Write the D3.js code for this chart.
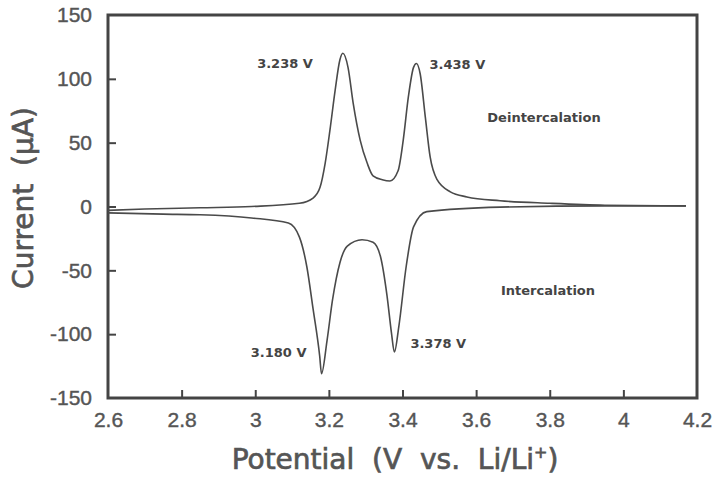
<!DOCTYPE html>
<html>
<head>
<meta charset="utf-8">
<script src="https://cdn.jsdelivr.net/npm/d3@7"></script>
<style>
  body { margin: 0; background: #fff; }
  svg { display: block; font-family: 'DejaVu Sans', Verdana, sans-serif; }
  .tick text { fill: #555; font-size: 21px; stroke: #555; stroke-width: 0.4px; }
  .tick line { stroke: #444; stroke-width: 2; }
  .title { fill: #555; font-size: 28px; stroke: #555; stroke-width: 0.7px; }
  .note { fill: #444; font-size: 13px; font-weight: bold; }
</style>
</head>
<body>
<svg width="715" height="478"></svg>
<script>
// cyclic voltammogram, values
// upper branch = deintercalation (anodic), lower branch = intercalation (cathodic)
const upperV = [2.6, 2.7, 2.85, 2.99, 3.12, 3.157, 3.176, 3.19, 3.203, 3.217, 3.23, 3.238, 3.252, 3.266, 3.285, 3.304, 3.32, 3.345, 3.366, 3.388, 3.402, 3.416, 3.43, 3.438, 3.448, 3.462, 3.475, 3.494, 3.53, 3.575, 3.665, 3.8, 3.95, 4.17]
const upperI = [-3, -2, -1, 0, 2.5, 6.6, 15, 34, 60, 91, 115, 120, 109, 81, 52, 34, 24, 21, 20, 28, 52, 86, 109, 112, 104, 70, 39, 21, 11.5, 7.5, 4.5, 2.5, 1, 0.5]

const lowerV = [2.6, 2.75, 2.85, 2.99, 3.09, 3.12, 3.14, 3.157, 3.175, 3.18, 3.195, 3.21, 3.23, 3.25, 3.29, 3.32, 3.34, 3.358, 3.37, 3.378, 3.39, 3.41, 3.43, 3.466, 3.665, 3.95, 4.17]
const lowerI = [-5, -6, -6.5, -9, -13, -24, -47, -80, -117, -131, -105, -73, -44, -31, -26, -28, -39, -70, -99, -114, -94, -47, -16, -4, -0.5, 0.5, 0.5]

const xTicks = [2.6, 2.8, 3, 3.2, 3.4, 3.6, 3.8, 4, 4.2]
const yTicks = [-150, -100, -50, 0, 50, 100, 150]

// peak labels: text, potential and current where the label sits
const peakText = ['3.238 V', '3.438 V', '3.180 V', '3.378 V']
const peakV = [3.238, 3.438, 3.180, 3.378]
const peakI = [108.5, 108, -118, -111]

const svg = d3.select('svg')

const x = d3.scaleLinear().domain([2.6, 4.2]).range([108, 697])
const y = d3.scaleLinear().domain([-150, 150]).range([398, 15])

// axes with inward ticks, the frame is drawn separately
const xAxis = svg.append('g')
  .attr('transform', `translate(0, ${y(-150)})`)
  .call(d3.axisBottom(x).tickValues(xTicks).tickSize(-8).tickPadding(14)
    .tickFormat(d => String(+d.toFixed(1))))
xAxis.select('.domain').remove()
xAxis.selectAll('.tick line').filter(d => d === 2.6 || d === 4.2).remove()

// plain hyphen for negatives, like the original
const yAxis = svg.append('g')
  .attr('transform', `translate(${x(2.6)}, 0)`)
  .call(d3.axisLeft(y).tickValues(yTicks).tickSize(-8).tickPadding(16)
    .tickFormat(d => String(d)))
yAxis.select('.domain').remove()
yAxis.selectAll('.tick line').filter(d => d === 150 || d === -150).remove()

// frame
svg.append('rect')
  .attr('x', x(2.6))
  .attr('y', y(150))
  .attr('width', x(4.2) - x(2.6))
  .attr('height', y(-150) - y(150))
  .attr('fill', 'none')
  .attr('stroke', '#444')
  .attr('stroke-width', 3)

const line = d3.line()
  .x(d => x(d[0]))
  .y(d => y(d[1]))
  .curve(d3.curveMonotoneX)

const branches = [d3.zip(upperV, upperI), d3.zip(lowerV, lowerI)]

svg.selectAll('path.cv')
  .data(branches)
  .enter()
  .append('path')
  .attr('class', 'cv')
  .attr('d', line)
  .attr('fill', 'none')
  .attr('stroke', '#4a4a4a')
  .attr('stroke-width', 1.6)

// peak potentials: labels left of the 3.2 V peaks, right of the 3.4 V peaks
const dxPeak = [-30, 13, -15, 16]
svg.selectAll('text.peak')
  .data(peakText)
  .enter()
  .append('text')
  .attr('class', 'note peak')
  .attr('x', (d, i) => x(peakV[i]) + dxPeak[i])
  .attr('y', (d, i) => y(peakI[i]))
  .attr('text-anchor', (d, i) => i % 2 === 0 ? 'end' : 'start')
  .text(d => d)

svg.append('text')
  .attr('class', 'note')
  .attr('x', 544)
  .attr('y', y(66))
  .attr('text-anchor', 'middle')
  .text('Deintercalation')

svg.append('text')
  .attr('class', 'note')
  .attr('x', 548)
  .attr('y', y(-69))
  .attr('text-anchor', 'middle')
  .text('Intercalation')

// axis titles
svg.append('text')
  .attr('class', 'title')
  .attr('transform', 'translate(33, 198) rotate(-90)')
  .attr('text-anchor', 'middle')
  .attr('xml:space', 'preserve')
  .text('Current  (μA)')

const xt = svg.append('text')
  .attr('class', 'title')
  .attr('x', 395)
  .attr('y', 469)
  .attr('text-anchor', 'middle')
  .attr('xml:space', 'preserve')
xt.append('tspan').text('Potential  (V  vs.  Li/Li')
xt.append('tspan').attr('dy', -11).attr('font-size', 16).text('+')
xt.append('tspan').attr('dy', 11).text(')')
</script>
</body>
</html>
